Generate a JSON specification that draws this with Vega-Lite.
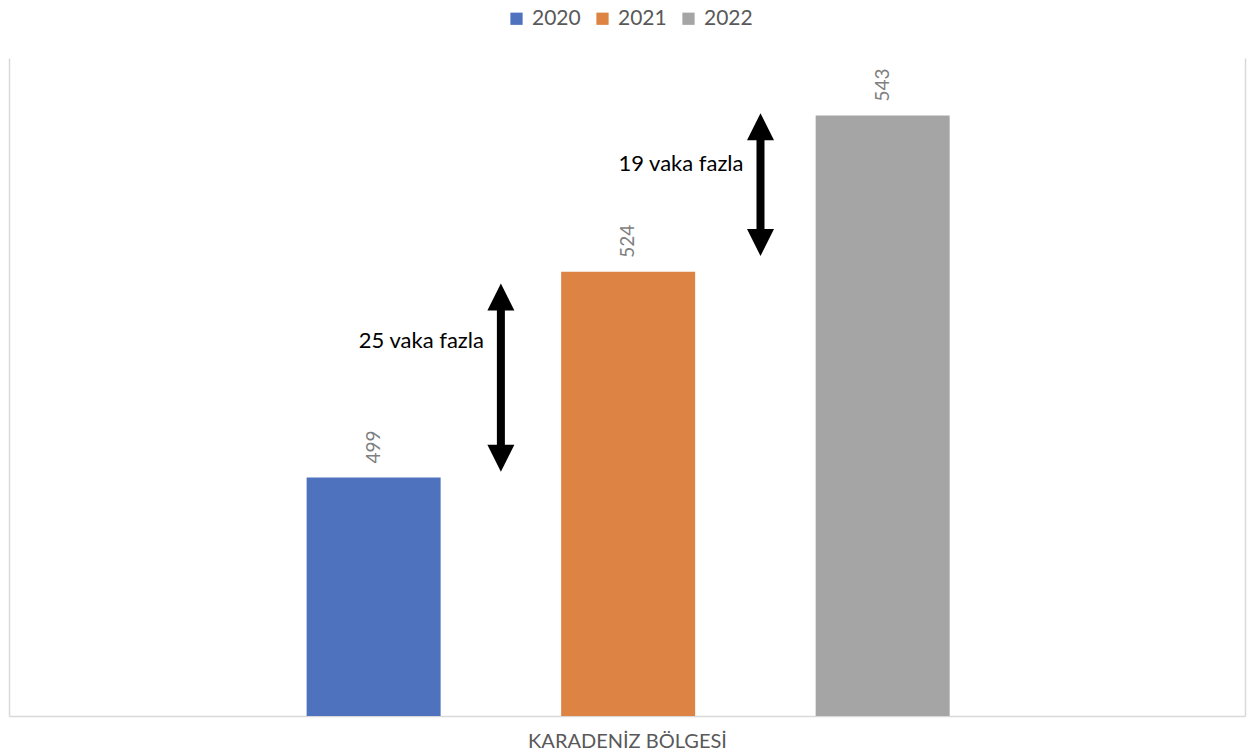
{
  "$schema": "https://vega.github.io/schema/vega-lite/v6.json",
  "width": 1236,
  "height": 658,
  "autosize": {"type": "none"},
  "padding": {"left": 9, "top": 58, "right": 2, "bottom": 40},
  "background": "white",
  "config": {"view": {"stroke": null}, "font": "Lato"},
  "datasets": {
    "cases": [
      {"year": 2020, "cases": 499},
      {"year": 2021, "cases": 524},
      {"year": 2022, "cases": 543}
    ],
    "arrows": [
      {"year": 2020.5, "low": 501.34, "high": 520.94, "label": "25 vaka fazla", "labelY": 515.6},
      {"year": 2021.52, "low": 527.57, "high": 541.64, "label": "19 vaka fazla", "labelY": 537.1}
    ]
  },
  "encoding": {
    "x": {
      "field": "year",
      "type": "quantitative",
      "scale": {"domain": [2018.587, 2023.404], "nice": false, "zero": false},
      "axis": {
        "title": "KARADENİZ BÖLGESİ",
        "labels": false,
        "ticks": false,
        "grid": false,
        "domainColor": "#D9D9D9",
        "domainWidth": 1.5,
        "titleFont": "Lato",
        "titleFontSize": 20,
        "titleFontWeight": "normal",
        "titleColor": "#595959",
        "titlePadding": 15
      }
    }
  },
  "layer": [
    {
      "data": {"name": "cases"},
      "mark": {"type": "bar", "width": 134, "clip": true},
      "encoding": {
        "y": {
          "field": "cases",
          "type": "quantitative",
          "stack": null,
          "scale": {"domain": [470, 550], "nice": false, "zero": false},
          "axis": {"orient": "left", "title": null, "labels": false, "ticks": false, "grid": false, "domainColor": "#D9D9D9", "domainWidth": 1.5}
        },
        "color": {
          "field": "year",
          "type": "nominal",
          "scale": {"domain": [2020, 2021, 2022], "range": ["#4E72BE", "#DD8344", "#A5A5A5"]},
          "legend": {
            "orient": "none",
            "legendX": 497,
            "legendY": -50,
            "direction": "horizontal",
            "title": null,
            "symbolType": "square",
            "symbolSize": 150,
            "symbolStrokeWidth": 0,
            "labelFont": "Lato",
            "labelFontSize": 21,
            "labelColor": "#595959",
            "labelOffset": 5,
            "columnPadding": 11,
            "padding": 0
          }
        }
      }
    },
    {
      "data": {"name": "cases"},
      "mark": {"type": "text", "angle": 270, "align": "left", "baseline": "middle", "dx": 14, "fontSize": 19, "color": "#7F7F7F", "font": "Lato"},
      "encoding": {
        "y": {
          "field": "cases",
          "type": "quantitative",
          "axis": {"orient": "right", "title": null, "labels": false, "ticks": false, "grid": false, "domainColor": "#D9D9D9", "domainWidth": 1.5}
        },
        "text": {"field": "cases", "type": "quantitative"}
      }
    },
    {
      "data": {"name": "arrows"},
      "mark": {"type": "rule", "strokeWidth": 8, "color": "black"},
      "encoding": {
        "y": {"field": "low", "type": "quantitative", "axis": null},
        "y2": {"field": "high"}
      }
    },
    {
      "data": {"name": "arrows"},
      "mark": {"type": "point", "shape": "M0,-1L1,1L-1,1Z", "filled": true, "size": 729, "color": "black", "opacity": 1, "strokeWidth": 0},
      "encoding": {
        "y": {"field": "high", "type": "quantitative", "axis": null}
      }
    },
    {
      "data": {"name": "arrows"},
      "mark": {"type": "point", "shape": "M0,1L1,-1L-1,-1Z", "filled": true, "size": 729, "color": "black", "opacity": 1, "strokeWidth": 0},
      "encoding": {
        "y": {"field": "low", "type": "quantitative", "axis": null}
      }
    },
    {
      "data": {"name": "arrows"},
      "mark": {"type": "text", "align": "right", "baseline": "middle", "dx": -17, "fontSize": 22, "color": "black", "font": "Lato"},
      "encoding": {
        "y": {"field": "labelY", "type": "quantitative", "axis": null},
        "text": {"field": "label", "type": "nominal"}
      }
    }
  ],
  "resolve": {"axis": {"y": "independent"}}
}
